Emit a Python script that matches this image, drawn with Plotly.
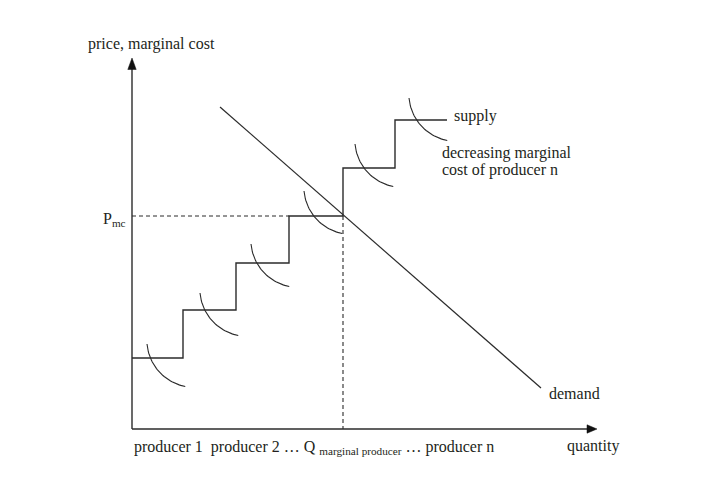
import numpy as np
import plotly.graph_objects as go

# ---- data (abstract units: 1 unit = 10 px) ----
step_edges = [0, 5.1, 10.4, 15.7, 21.1, 26.3, 31.5]      # cumulative quantity per producer
step_prices = [7.1, 11.9, 16.6, 21.3, 26.1, 30.9]         # marginal cost level per producer
demand_q = [8.8, 40.9]
demand_p = [32.2, 4.1]
q_marginal = 21.1
p_mc = 21.3
x_axis_end = 46.5
y_axis_end = 37.1

# arc (decreasing marginal cost) placement relative to each step
arc_dx = [1.5, 1.7, 1.5, 1.5, 1.2, 1.4]
arc_up = [1.4, 1.7, 1.9, 2.5, 2.4, 2.2]
arc_r = 4.75
arc_theta = (185, 259)

LINE = "#2b2b2b"
TXT = "#231f20"
FONT = "Liberation Serif, Times New Roman, serif"

fig = go.Figure()

# axes
fig.add_trace(go.Scatter(x=[0, 0], y=[0, y_axis_end - 1.0], mode="lines",
                         line=dict(color=LINE, width=1.4), hoverinfo="skip"))
fig.add_trace(go.Scatter(x=[0, x_axis_end - 0.9], y=[0, 0], mode="lines",
                         line=dict(color=LINE, width=1.4), hoverinfo="skip"))
# arrowheads
fig.add_trace(go.Scatter(x=[-0.42, 0.42, 0, -0.42],
                         y=[y_axis_end - 1.15, y_axis_end - 1.15, y_axis_end, y_axis_end - 1.15],
                         mode="lines", fill="toself", fillcolor="#111", line=dict(color="#111", width=0.5),
                         hoverinfo="skip"))
fig.add_trace(go.Scatter(x=[x_axis_end - 1.0, x_axis_end - 1.0, x_axis_end, x_axis_end - 1.0],
                         y=[0.42, -0.42, 0, 0.42],
                         mode="lines", fill="toself", fillcolor="#111", line=dict(color="#111", width=0.5),
                         hoverinfo="skip"))

# dashed reference lines
fig.add_trace(go.Scatter(x=[0, step_edges[3]], y=[p_mc, p_mc], mode="lines",
                         line=dict(color=LINE, width=1, dash="4px,3px"), hoverinfo="skip"))
fig.add_trace(go.Scatter(x=[q_marginal, q_marginal], y=[p_mc, 0], mode="lines",
                         line=dict(color=LINE, width=1.1, dash="4px,3px"), hoverinfo="skip"))

# supply step curve
fig.add_trace(go.Scatter(x=step_edges, y=step_prices + [step_prices[-1]], mode="lines",
                         line=dict(color=LINE, width=1.4, shape="hv"), hoverinfo="skip"))

# demand line
fig.add_trace(go.Scatter(x=demand_q, y=demand_p, mode="lines",
                         line=dict(color=LINE, width=1.2), hoverinfo="skip"))

# arcs
th = np.radians(np.linspace(arc_theta[0], arc_theta[1], 40))
for i in range(len(step_prices)):
    sx = step_edges[i] + arc_dx[i]
    sy = step_prices[i] + arc_up[i]
    cx = sx - arc_r * np.cos(np.radians(arc_theta[0]))
    cy = sy - arc_r * np.sin(np.radians(arc_theta[0]))
    fig.add_trace(go.Scatter(x=cx + arc_r * np.cos(th), y=cy + arc_r * np.sin(th), mode="lines",
                             line=dict(color=LINE, width=1.1), hoverinfo="skip"))

def label(x, y, text, xanchor="left", size=16):
    fig.add_annotation(x=x, y=y, text=text, showarrow=False, xanchor=xanchor, yanchor="middle",
                       font=dict(family=FONT, size=size, color=TXT), xref="x", yref="y")

label(-4.6, 38.5, "price, marginal cost")
label(-0.4, 21.0, "P<sub>mc</sub>", xanchor="right")
label(31.97, 31.3, "supply")
label(30.8, 27.6, "decreasing marginal")
label(30.8, 25.9, "cost of producer n")
label(41.5, 3.6, "demand")
label(0.0, -1.85, "producer 1\u00a0 producer 2 \u2026 Q <sub>marginal producer</sub> \u2026 producer n")
label(43.3, -1.7, "quantity")

fig.update_layout(
    width=727, height=480,
    margin=dict(l=0, r=0, t=0, b=0),
    plot_bgcolor="white", paper_bgcolor="white",
    showlegend=False,
    xaxis=dict(range=[-13.2, 59.5], visible=False, fixedrange=True),
    yaxis=dict(range=[-5.1, 42.9], visible=False, fixedrange=True),
)

fig.write_html("out.html")
